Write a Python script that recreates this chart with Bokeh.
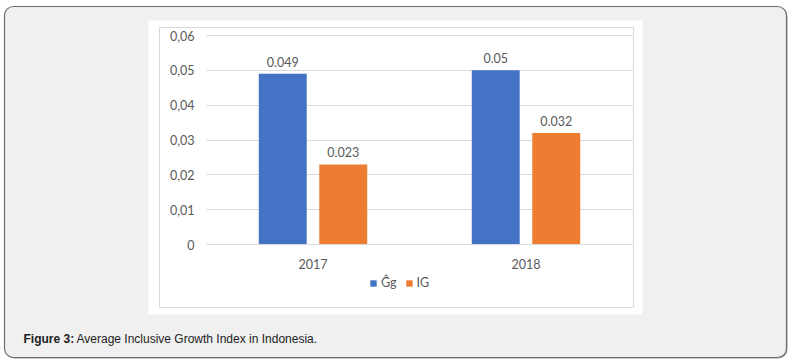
from bokeh.plotting import figure
from bokeh.models import (ColumnDataSource, Range1d, BoxAnnotation, Label,
                          Legend, LegendItem, FixedTicker, CustomJSTickFormatter)
from bokeh.core.properties import value
from bokeh.embed import file_html
from bokeh.resources import INLINE

# ---- data ----
years = ["2017", "2018"]
gg_values = [0.049, 0.05]
ig_values = [0.023, 0.032]
series_names = ["Ĝg", "IG"]
series_colors = ["#4472c4", "#ed7d31"]
y_ticks = [0, 0.01, 0.02, 0.03, 0.04, 0.05, 0.06]
y_max = 0.06
caption_bold = "Figure 3:"
caption_text = "Average Inclusive Growth Index in Indonesia."

# ---- layout constants (canvas px) ----
W, H = 790, 362
PL, PR, PT, PB = 206, 632, 35, 244          # plot area on the canvas
FONT = "Lato"
TXT = "#595959"

n = len(years)
px_per_cat = (PR - PL) / n
px_per_unit = (PB - PT) / y_max

x_start = -PL / px_per_cat
x_end = n + (W - PR) / px_per_cat
y_start = -(H - PB) / px_per_unit
y_end = y_max + PT / px_per_unit

off, bw = 0.142, 0.225
centers = [i + 0.5 for i in range(n)]

src = ColumnDataSource(dict(
    xc=centers,
    x_gg=[c - off for c in centers],
    x_ig=[c + off for c in centers],
    gg=gg_values,
    ig=ig_values,
    gg_label=[str(v) for v in gg_values],
    ig_label=[str(v) for v in ig_values],
))

p = figure(width=W, height=H, title=None,
           x_range=Range1d(x_start, x_end), y_range=Range1d(y_start, y_end),
           output_backend="svg", toolbar_location=None,
           min_border=0, min_border_left=0, min_border_right=0,
           min_border_top=0, min_border_bottom=0)
p.background_fill_color = "white"
p.border_fill_color = "white"
p.outline_line_color = None


def box(l, r, t, b, **kw):
    return BoxAnnotation(left=l, right=r, top=H - t, bottom=H - b,
                         left_units="screen", right_units="screen",
                         top_units="screen", bottom_units="screen",
                         level="underlay", **kw)


shadow = box(5, 787, 7, 358, fill_color="#9a9a9a", fill_alpha=1, line_alpha=0,
             border_radius=9)
outer = box(4, 786, 6, 357, fill_color="#f0f0f0", fill_alpha=1, line_color="#6e6e6e",
            line_alpha=1, line_width=1.2, border_radius=9)
white_box = box(148, 642, 20, 314, fill_color="white", fill_alpha=1, line_alpha=0)
inner_box = box(159, 633, 27, 307, fill_color="white", fill_alpha=1,
                line_color="#d9d9d9", line_alpha=1, line_width=1)
p.center = [shadow, outer, white_box, inner_box] + list(p.center)

# bars
r1 = p.vbar(x="x_gg", top="gg", width=bw, source=src,
            fill_color=series_colors[0], line_color=None)
r2 = p.vbar(x="x_ig", top="ig", width=bw, source=src,
            fill_color=series_colors[1], line_color=None)

for xcol, col, lab in (("x_gg", "gg", "gg_label"), ("x_ig", "ig", "ig_label")):
    p.text(x=xcol, y=col, text=lab, source=src,
           text_align="center", text_baseline="middle", y_offset=-12,
           text_font=value(FONT), text_font_size="12.5px", text_color=TXT)

# axes
yaxis = p.yaxis[0]
xaxis = p.xaxis[0]
yticker = FixedTicker(ticks=y_ticks)
yaxis.ticker = yticker
p.ygrid[0].ticker = yticker
yaxis.fixed_location = 0
yaxis.formatter = CustomJSTickFormatter(
    code="return tick === 0 ? '0' : tick.toFixed(2).replace('.', ',');")
yaxis.axis_line_color = None
yaxis.major_tick_line_color = None
yaxis.minor_tick_line_color = None
yaxis.major_tick_out = 0
yaxis.major_tick_in = 0
yaxis.major_label_standoff = 12
yaxis.major_label_text_font = FONT
yaxis.major_label_text_font_size = "12.5px"
yaxis.major_label_text_color = TXT

xaxis.ticker = FixedTicker(ticks=centers)
xaxis.formatter = CustomJSTickFormatter(
    args=dict(labels=years),
    code="const i = Math.floor(tick); return (i >= 0 && i < labels.length) ? labels[i] : '';")
xaxis.fixed_location = 0
xaxis.bounds = (0, n)
xaxis.axis_line_color = "#d9d9d9"
xaxis.major_tick_line_color = None
xaxis.minor_tick_line_color = None
xaxis.major_tick_out = 0
xaxis.major_tick_in = 0
xaxis.major_label_standoff = 14
xaxis.major_label_text_font = FONT
xaxis.major_label_text_font_size = "12.5px"
xaxis.major_label_text_color = TXT

p.xgrid.grid_line_color = None
p.ygrid.grid_line_color = "#d9d9d9"
p.ygrid.grid_line_width = 1
p.ygrid[0].cross_bounds = (0, n)

# legend
legend = Legend(items=[LegendItem(label=series_names[0], renderers=[r1]),
                       LegendItem(label=series_names[1], renderers=[r2])],
                location=(369, H - 290), orientation="horizontal",
                glyph_width=8, glyph_height=8, label_standoff=4, spacing=8,
                label_height=14, label_width=10, padding=0, margin=0,
                background_fill_alpha=0, border_line_alpha=0,
                label_text_font=FONT, label_text_font_size="12.5px",
                label_text_color=TXT)
p.add_layout(legend)

# caption
p.add_layout(Label(x=23, y=H - 338, x_units="screen", y_units="screen",
                   text=caption_bold, text_font="Liberation Sans", text_font_style="bold",
                   text_font_size="12px", text_baseline="middle", text_color="#222222"))
p.add_layout(Label(x=76, y=H - 338, x_units="screen", y_units="screen",
                   text=caption_text, text_font="Liberation Sans",
                   text_font_size="12px", text_baseline="middle", text_color="#222222"))

open("out.html", "w").write(file_html(p, INLINE))
